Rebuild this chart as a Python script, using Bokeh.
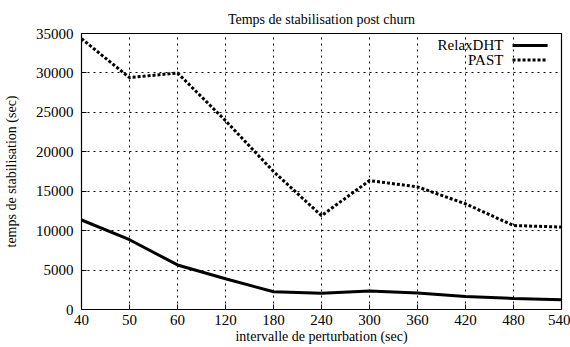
from bokeh.plotting import figure
from bokeh.models import Range1d, FixedTicker, Label, Arrow
from bokeh.embed import file_html
from bokeh.resources import INLINE

categories = ["40", "50", "60", "120", "180", "240", "300", "360", "420", "480", "540"]
relaxdht = [11350, 8850, 5650, 3900, 2250, 2050, 2350, 2100, 1650, 1400, 1250]
past = [34350, 29400, 30000, 23950, 17500, 11900, 16350, 15550, 13400, 10650, 10450]
y_ticks = [0, 5000, 10000, 15000, 20000, 25000, 30000, 35000]

xs = list(range(len(categories)))
FONT = "Liberation Serif"

p = figure(width=570, height=347, output_backend="svg", toolbar_location=None,
           x_range=Range1d(0, len(categories) - 1), y_range=Range1d(0, 35000),
           title="Temps de stabilisation post churn",
           min_border_left=81, min_border_right=9, min_border_top=33, min_border_bottom=38)

p.title.align = "center"
p.title.vertical_align = "top"
p.title.text_font = FONT
p.title.text_font_size = "14px"
p.title.text_font_style = "normal"
p.title.text_color = "black"

p.outline_line_color = "black"
p.outline_line_width = 1.2
p.background_fill_color = "white"
p.border_fill_color = "white"

p.xaxis.ticker = FixedTicker(ticks=xs)
p.xaxis.major_label_overrides = {i: c for i, c in enumerate(categories)}
p.yaxis.ticker = FixedTicker(ticks=y_ticks)

for ax in (p.xaxis[0], p.yaxis[0]):
    ax.axis_line_color = None
    ax.major_tick_in = 5
    ax.major_tick_out = 0
    ax.minor_tick_line_color = None
    ax.major_tick_line_color = "black"
    ax.major_label_text_font = FONT
    ax.major_label_text_font_size = "15px"
    ax.major_label_text_color = "black"
    ax.axis_label_text_font = FONT
    ax.axis_label_text_font_size = "14px"
    ax.axis_label_text_font_style = "normal"
    ax.axis_label_text_color = "black"

p.xaxis.axis_label = "intervalle de perturbation (sec)"
p.yaxis.axis_label = "temps de stabilisation (sec)"
p.xaxis.major_label_standoff = 5
p.xaxis.axis_label_standoff = 1
p.yaxis.major_label_standoff = 8
p.yaxis.axis_label_standoff = 14

for g in (p.xgrid[0], p.ygrid[0]):
    g.grid_line_color = "black"
    g.grid_line_dash = "2 4"
    g.grid_line_width = 1

p.line(xs, relaxdht, line_color="black", line_width=3)
p.line(xs, past, line_color="black", line_width=3, line_dash="3 2")

# gnuplot-style legend: label then sample on the right
leg_items = [("RelaxDHT", 33480, None), ("PAST", 31650, "3 2")]
for name, yy, dash in leg_items:
    p.add_layout(Label(x=8.79, y=yy, text=name, text_align="right", text_baseline="middle",
                       text_font=FONT, text_font_size="15px", text_color="black"))
    kw = dict(x_start=8.98, y_start=yy, x_end=9.71, y_end=yy, end=None,
              line_color="black", line_width=3)
    if dash:
        kw["line_dash"] = dash
    p.add_layout(Arrow(**kw))

open("out.html", "w").write(file_html(p, INLINE))
